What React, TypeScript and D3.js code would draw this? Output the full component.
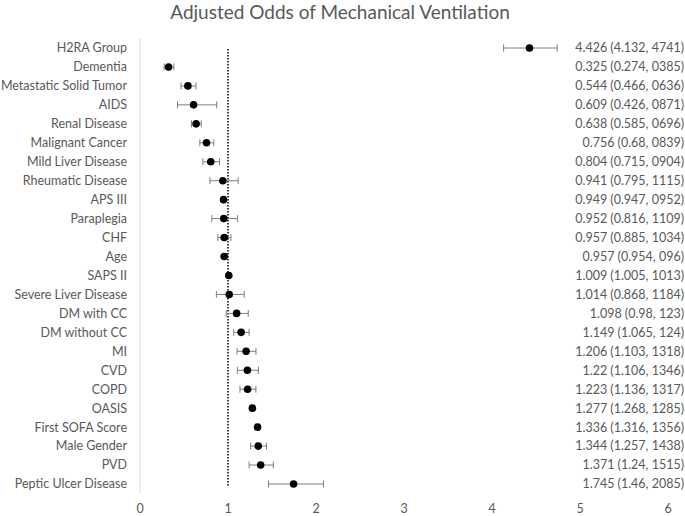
import React from "react";
import * as d3 from "d3";

const categories = [
  "H2RA Group", "Dementia", "Metastatic Solid Tumor", "AIDS", "Renal Disease",
  "Malignant Cancer", "Mild Liver Disease", "Rheumatic Disease", "APS III",
  "Paraplegia", "CHF", "Age", "SAPS II", "Severe Liver Disease", "DM with CC",
  "DM without CC", "MI", "CVD", "COPD", "OASIS", "First SOFA Score",
  "Male Gender", "PVD", "Peptic Ulcer Disease",
];
const odds = [4.426, 0.325, 0.544, 0.609, 0.638, 0.756, 0.804, 0.941, 0.949, 0.952, 0.957, 0.957,
  1.009, 1.014, 1.098, 1.149, 1.206, 1.22, 1.223, 1.277, 1.336, 1.344, 1.371, 1.745];
const lower = [4.132, 0.274, 0.466, 0.426, 0.585, 0.68, 0.715, 0.795, 0.947, 0.816, 0.885, 0.954,
  1.005, 0.868, 0.98, 1.065, 1.103, 1.106, 1.136, 1.268, 1.316, 1.257, 1.24, 1.46];
const upper = [4.741, 0.385, 0.636, 0.871, 0.696, 0.839, 0.904, 1.115, 0.952, 1.109, 1.034, 0.96,
  1.013, 1.184, 1.23, 1.24, 1.318, 1.346, 1.317, 1.285, 1.356, 1.438, 1.515, 2.085];
const valueLabels = [
  "4.426 (4.132, 4741)", "0.325 (0.274, 0385)", "0.544 (0.466, 0636)", "0.609 (0.426, 0871)",
  "0.638 (0.585, 0696)", "0.756 (0.68, 0839)", "0.804 (0.715, 0904)", "0.941 (0.795, 1115)",
  "0.949 (0.947, 0952)", "0.952 (0.816, 1109)", "0.957 (0.885, 1034)", "0.957 (0.954, 096)",
  "1.009 (1.005, 1013)", "1.014 (0.868, 1184)", "1.098 (0.98, 123)", "1.149 (1.065, 124)",
  "1.206 (1.103, 1318)", "1.22 (1.106, 1346)", "1.223 (1.136, 1317)", "1.277 (1.268, 1285)",
  "1.336 (1.316, 1356)", "1.344 (1.257, 1438)", "1.371 (1.24, 1515)", "1.745 (1.46, 2085)",
];
const xTicks = [0, 1, 2, 3, 4, 5, 6];

const W = 685, H = 516;
const font = "Lato, 'Open Sans', sans-serif";
const grey = "#595959";

export default function App() {
  const x = d3.scaleLinear().domain([0, 6]).range([140, 668]);
  const y = d3.scalePoint<string>().domain(categories).range([48, 484]);
  const cap = 3.5;

  return (
    <svg width={W} height={H} style={{ position: "absolute", left: 0, top: 0 }}
      fontFamily={font}>
      <rect width={W} height={H} fill="#fff" />
      <text x={340} y={19} textAnchor="middle" fontSize={19} fill={grey}>
        Adjusted Odds of Mechanical Ventilation
      </text>

      {/* y axis line */}
      <line x1={x(0)} x2={x(0)} y1={38} y2={493} stroke="#d9d9d9" strokeWidth={1} />
      {/* reference line at OR = 1 */}
      <line x1={x(1)} x2={x(1)} y1={49} y2={487} stroke="#000" strokeWidth={1.5}
        strokeDasharray="1.5,1.5" />

      {categories.map((c, i) => {
        const cy = y(c)!;
        return (
          <g key={c}>
            <text x={127} y={cy} dy="0.35em" textAnchor="end" fontSize={12.5} fill={grey}>{c}</text>
            <line x1={x(lower[i])} x2={x(upper[i])} y1={cy} y2={cy} stroke="#7f7f7f" strokeWidth={1} />
            <line x1={x(lower[i])} x2={x(lower[i])} y1={cy - cap} y2={cy + cap} stroke="#7f7f7f" strokeWidth={1} />
            <line x1={x(upper[i])} x2={x(upper[i])} y1={cy - cap} y2={cy + cap} stroke="#7f7f7f" strokeWidth={1} />
            <circle cx={x(odds[i])} cy={cy} r={3.8} fill="#000" />
            <text x={684} y={cy} dy="0.35em" textAnchor="end" fontSize={12.5} fill={grey}>{valueLabels[i]}</text>
          </g>
        );
      })}

      {xTicks.map((t) => (
        <text key={t} x={x(t)} y={509} dy="0.35em" textAnchor="middle" fontSize={12.5} fill={grey}>{t}</text>
      ))}
    </svg>
  );
}
